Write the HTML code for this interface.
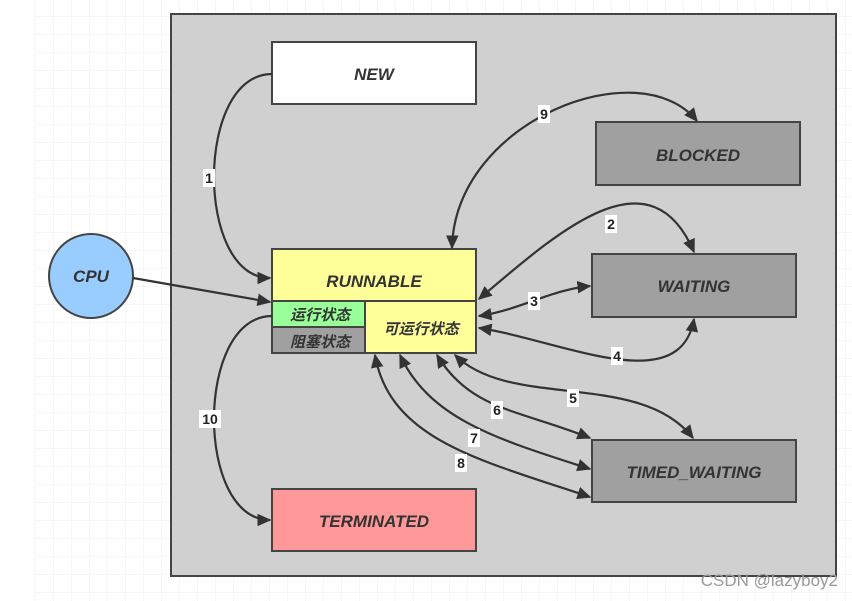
<!DOCTYPE html>
<html><head><meta charset="utf-8"><style>
html,body{margin:0;padding:0;background:#fff;}
svg{display:block;}
text{font-family:"Liberation Sans","Noto Sans CJK SC",sans-serif;}
.lbl{font-size:17px;font-weight:bold;font-style:italic;fill:#333;}
.num{font-size:14px;font-weight:bold;fill:#222;}
</style></head><body>
<svg width="852" height="601" viewBox="0 0 852 601" xmlns="http://www.w3.org/2000/svg">
<defs>
<pattern id="g" width="18" height="18" patternUnits="userSpaceOnUse" x="35" y="-2">
<path d="M0 0H18M0 0V18" stroke="#eeeeee" stroke-width="1" fill="none"/>
</pattern>
<marker id="a" viewBox="0 0 10 10" refX="9" refY="5" markerWidth="14" markerHeight="14" markerUnits="userSpaceOnUse" orient="auto-start-reverse">
<path d="M0,0.5 L10,5 L0,9.5 z" fill="#333"/>
</marker>
</defs>
<rect x="35" y="0" width="817" height="601" fill="url(#g)"/>
<rect x="171" y="14" width="665" height="562" fill="#d0d0d0" stroke="#444" stroke-width="2"/>

<rect x="272" y="42" width="204" height="62" fill="#fff" stroke="#444" stroke-width="2"/>
<text x="374" y="80" text-anchor="middle" class="lbl">NEW</text>
<rect x="596" y="122" width="204" height="63" fill="#a0a0a0" stroke="#444" stroke-width="2"/>
<text x="698" y="161" text-anchor="middle" class="lbl">BLOCKED</text>
<rect x="592" y="254" width="204" height="63" fill="#a0a0a0" stroke="#444" stroke-width="2"/>
<text x="694" y="292" text-anchor="middle" class="lbl">WAITING</text>
<rect x="592" y="440" width="204" height="62" fill="#a0a0a0" stroke="#444" stroke-width="2"/>
<text x="694" y="478" text-anchor="middle" class="lbl">TIMED_WAITING</text>
<rect x="272" y="489" width="204" height="62" fill="#ff9999" stroke="#444" stroke-width="2"/>
<text x="374" y="527" text-anchor="middle" class="lbl">TERMINATED</text>

<rect x="272" y="249" width="204" height="104" fill="#ffff99" stroke="#444" stroke-width="2"/>
<line x1="272" y1="301" x2="476" y2="301" stroke="#444" stroke-width="2"/>
<rect x="272" y="301" width="93" height="26" fill="#99ff99" stroke="#444" stroke-width="2"/>
<rect x="272" y="327" width="93" height="26" fill="#a0a0a0" stroke="#444" stroke-width="2"/>
<rect x="365" y="301" width="111" height="52" fill="#ffff99" stroke="#444" stroke-width="2"/>
<text x="374" y="287" text-anchor="middle" class="lbl">RUNNABLE</text>
<text x="320" y="320" text-anchor="middle" class="lbl" style="font-size:15px">运行状态</text>
<text x="320" y="347" text-anchor="middle" class="lbl" style="font-size:15px">阻塞状态</text>
<text x="421" y="334" text-anchor="middle" class="lbl" style="font-size:15px">可运行状态</text>

<circle cx="91" cy="276" r="42" fill="#99ccff" stroke="#444" stroke-width="2"/>
<text x="91" y="282" text-anchor="middle" class="lbl">CPU</text>

<g fill="none" stroke="#333" stroke-width="2.2">
<path d="M272,74 C195,74 195,278 270,278" marker-end="url(#a)"/>
<path d="M133,278 L270,302" marker-end="url(#a)"/>
<path d="M272,316 C195,316 195,520 270,520" marker-end="url(#a)"/>
<path d="M452,248 C455,120 640,50 697,121" marker-start="url(#a)" marker-end="url(#a)"/>
<path d="M479,299 C560,230 650,150 694,252" marker-start="url(#a)" marker-end="url(#a)"/>
<path d="M479,316 C520,310 550,290 590,286" marker-start="url(#a)" marker-end="url(#a)"/>
<path d="M479,328 C560,340 680,400 694,319" marker-start="url(#a)" marker-end="url(#a)"/>
<path d="M455,355 C510,410 640,370 693,438" marker-start="url(#a)" marker-end="url(#a)"/>
<path d="M437,355 C470,410 520,410 590,438" marker-start="url(#a)" marker-end="url(#a)"/>
<path d="M400,355 C430,420 500,440 590,469" marker-start="url(#a)" marker-end="url(#a)"/>
<path d="M375,355 C390,440 480,460 590,497" marker-start="url(#a)" marker-end="url(#a)"/>
</g>

<g class="num" text-anchor="middle">
<rect x="203" y="169" width="12" height="18" fill="#fff"/><text x="209" y="183">1</text>
<rect x="199" y="410" width="22" height="18" fill="#fff"/><text x="210" y="424">10</text>
<rect x="538" y="105" width="12" height="18" fill="#fff"/><text x="544" y="119">9</text>
<rect x="605" y="215" width="12" height="18" fill="#fff"/><text x="611" y="229">2</text>
<rect x="528" y="292" width="12" height="18" fill="#fff"/><text x="534" y="306">3</text>
<rect x="611" y="347" width="12" height="18" fill="#fff"/><text x="617" y="361">4</text>
<rect x="567" y="389" width="12" height="18" fill="#fff"/><text x="573" y="403">5</text>
<rect x="491" y="401" width="12" height="18" fill="#fff"/><text x="497" y="415">6</text>
<rect x="468" y="429" width="12" height="18" fill="#fff"/><text x="474" y="443">7</text>
<rect x="455" y="454" width="12" height="18" fill="#fff"/><text x="461" y="468">8</text>
</g>

<text x="838" y="586" text-anchor="end" style="font-size:17px;fill:#999;">CSDN @lazyboy2</text>
</svg>
</body></html>
